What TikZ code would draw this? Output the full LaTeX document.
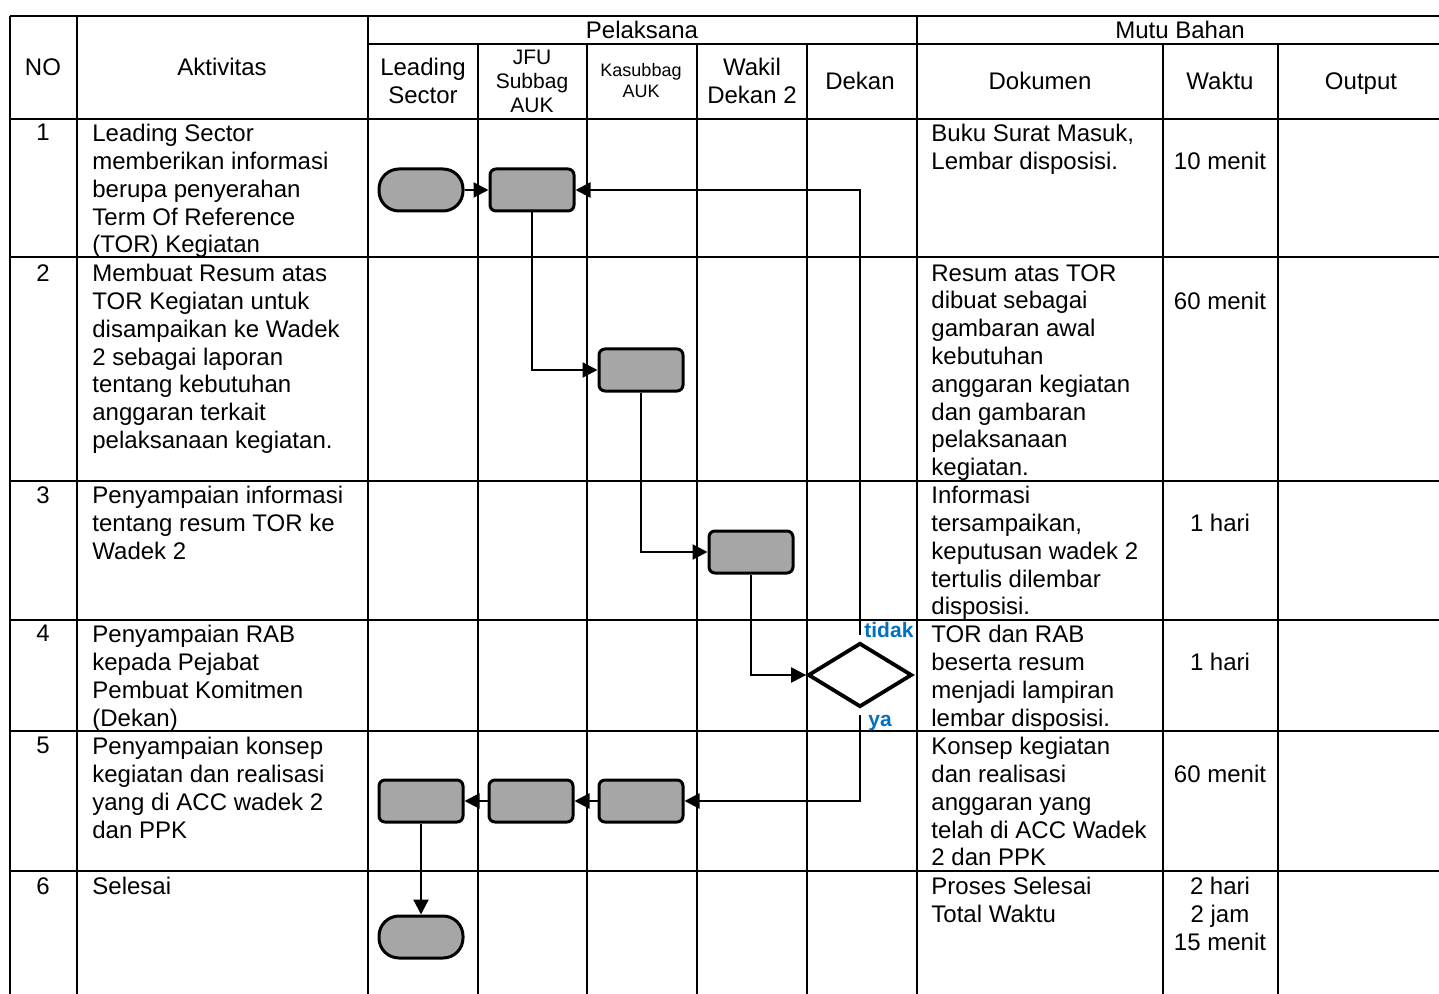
\documentclass[tikz,border=0pt]{standalone}
\usepackage{fontspec}
\setmainfont{Liberation Sans}
\usetikzlibrary{arrows.meta, positioning, shapes.geometric}
\definecolor{boxgray}{HTML}{A6A6A6}
\definecolor{labelblue}{HTML}{0070C0}

\begin{document}
\begin{tikzpicture}[
    x=0.5pt, y=-0.5pt,
    every node/.style={font=\fontsize{12}{13.9}\selectfont, inner sep=0pt},
    grid/.style={line width=1.1pt},
    head/.style={align=center},
    body/.style={anchor=north west, align=left},
    num/.style={anchor=north},
    waktu/.style={anchor=north, align=center},
    proc/.style={draw, fill=boxgray, rounded corners=3pt, line width=1.5pt,
                 minimum width=42pt, minimum height=21pt},
    term/.style={draw, fill=boxgray, rounded corners=10pt, line width=1.5pt,
                 minimum width=42pt, minimum height=21pt},
    decision/.style={draw, diamond, aspect=1.6, line width=1.9pt, fill=white,
                     minimum width=52pt, minimum height=32pt},
    flag/.style={font=\fontsize{10.5}{12}\selectfont\bfseries, text=labelblue},
    arr/.style={-{Triangle[length=7.5pt, width=7.5pt]}, line width=1.1pt}
]
    \useasboundingbox (0,0) rectangle (1439,994);

    % Table grid
    \draw[grid] (10,16) -- (1439,16);
    \draw[grid] (368,44) -- (1439,44);
    \foreach \y in {119,257,481,620,731,871}
        \draw[grid] (10,\y) -- (1439,\y);
    \foreach \x in {10,77,368,917}
        \draw[grid] (\x,16) -- (\x,994);
    \foreach \x in {478,587,697,807,1163,1278}
        \draw[grid] (\x,44) -- (\x,994);

    % Header
    \node[head] (hno) at (43,67) {NO};
    \node[head] (hakt) at (222,67) {Aktivitas};
    \node[head] (hpel) at (642,30) {Pelaksana};
    \node[head] (hmutu) at (1180,30) {Mutu Bahan};
    \node[head] (hlead) at (423,81) {Leading\\Sector};
    \node[head, font=\fontsize{10.5}{12}\selectfont] (hjfu) at (532,81) {JFU\\Subbag\\AUK};
    \node[head, font=\fontsize{9}{10.5}\selectfont] (hkas) at (641,81) {Kasubbag\\AUK};
    \node[head] (hwak) at (752,81) {Wakil\\Dekan 2};
    \node[head] (hdek) at (860,81) {Dekan};
    \node[head] (hdok) at (1040,81) {Dokumen};
    \node[head] (hwak2) at (1220,81) {Waktu};
    \node[head] (hout) at (1361,84) {Output};

    % Row 1
    \node[num] (no1) at (43,124) {1};
    \node[body] (act1) at (92,124) {Leading Sector\\memberikan informasi\\berupa penyerahan\\Term Of Reference\\(TOR) Kegiatan};
    \node[body] (doc1) at (931,124) {Buku Surat Masuk,\\Lembar disposisi.};
    \node[waktu] (time1) at (1220,152) {10 menit};

    % Row 2
    \node[num] (no2) at (43,264) {2};
    \node[body] (act2) at (92,264) {Membuat Resum atas\\TOR Kegiatan untuk\\disampaikan ke Wadek\\2 sebagai laporan\\tentang kebutuhan\\anggaran terkait\\pelaksanaan kegiatan.};
    \node[body] (doc2) at (931,264) {Resum atas TOR\\dibuat sebagai\\gambaran awal\\kebutuhan\\anggaran kegiatan\\dan gambaran\\pelaksanaan\\kegiatan.};
    \node[waktu] (time2) at (1220,292) {60 menit};

    % Row 3
    \node[num] (no3) at (43,486) {3};
    \node[body] (act3) at (92,486) {Penyampaian informasi\\tentang resum TOR ke\\Wadek 2};
    \node[body] (doc3) at (931,486) {Informasi\\tersampaikan,\\keputusan wadek 2\\tertulis dilembar\\disposisi.};
    \node[waktu] (time3) at (1220,514) {1 hari};

    % Row 4
    \node[num] (no4) at (43,625) {4};
    \node[body] (act4) at (92,625) {Penyampaian RAB\\kepada Pejabat\\Pembuat Komitmen\\(Dekan)};
    \node[body] (doc4) at (931,625) {TOR dan RAB\\beserta resum\\menjadi lampiran\\lembar disposisi.};
    \node[waktu] (time4) at (1220,653) {1 hari};

    % Row 5
    \node[num] (no5) at (43,737) {5};
    \node[body] (act5) at (92,737) {Penyampaian konsep\\kegiatan dan realisasi\\yang di ACC wadek 2\\dan PPK};
    \node[body] (doc5) at (931,737) {Konsep kegiatan\\dan realisasi\\anggaran yang\\telah di ACC Wadek\\2 dan PPK};
    \node[waktu] (time5) at (1220,765) {60 menit};

    % Row 6
    \node[num] (no6) at (43,877) {6};
    \node[body] (act6) at (92,877) {Selesai};
    \node[body] (doc6) at (931,877) {Proses Selesai\\Total Waktu};
    \node[waktu] (time6) at (1220,877) {2 hari\\2 jam\\15 menit};

    % Flow shapes
    \node[term] (start) at (421,190) {};
    \node[proc] (jfu1) at (532,190) {};
    \node[proc] (kas2) at (641,370) {};
    \node[proc] (wak3) at (751,552) {};
    \node[decision] (dec) at (860,675) {};
    \node[proc] (lead5) at (421,801) {};
    \node[proc] (jfu5) at (531,801) {};
    \node[proc] (kas5) at (641,801) {};
    \node[term] (finish) at (421,937) {};

    % Decision labels
    \node[flag, anchor=south west] (tidak) at ([xshift=2pt, yshift=1.5pt]dec.north) {tidak};
    \node[flag, anchor=north west] (ya) at ([xshift=4pt, yshift=-3pt]dec.south) {ya};

    % Connectors
    \draw[arr] (start) -- (jfu1);
    \draw[arr] (jfu1.south) |- (kas2.west);
    \draw[arr] (kas2.south) |- (wak3.west);
    \draw[arr] (wak3.south) |- (dec.west);
    \draw[arr, shorten <=3pt] (dec.north) |- (jfu1.east);
    \draw[arr, shorten <=3pt] (dec.south) |- (kas5.east);
    \draw[arr] (kas5) -- (jfu5);
    \draw[arr] (jfu5) -- (lead5);
    \draw[arr] (lead5) -- (finish);
\end{tikzpicture}
\end{document}
